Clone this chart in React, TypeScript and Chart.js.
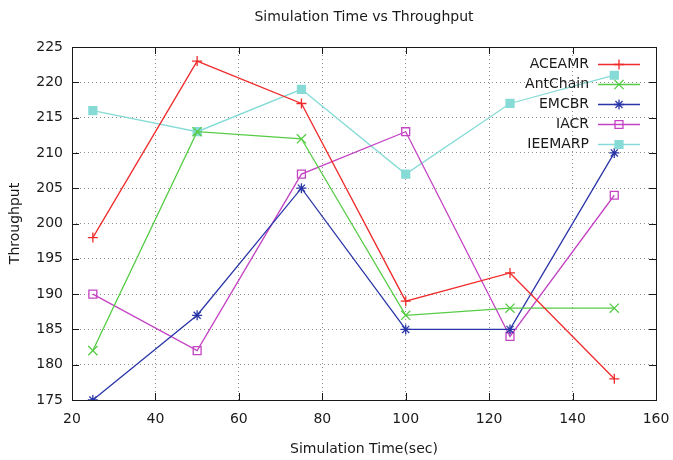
import React, { useEffect, useRef } from "react";
import { Chart, registerables } from "chart.js";
import { drawPoint } from "chart.js/helpers";

Chart.register(...registerables);

const chartTitle = "Simulation Time vs Throughput";
const simTimes = [25, 50, 75, 100, 125, 150];
const seriesNames = ["ACEAMR", "AntChain", "EMCBR", "IACR", "IEEMARP"];
const aceamr = [198, 223, 217, 189, 193, 178];
const antChain = [182, 213, 212, 187, 188, 188];
const emcbr = [175, 187, 205, 185, 185, 210];
const iacr = [190, 182, 207, 213, 184, 204];
const ieemarp = [216, 213, 219, 207, 217, 221];
const xTicks = [20, 40, 60, 80, 100, 120, 140, 160];
const yTicks = [175, 180, 185, 190, 195, 200, 205, 210, 215, 220, 225];

const FONT = "'DejaVu Sans', 'Noto Sans', sans-serif";
const TEXT = "#1a1a1a";

const styles = [
  { color: "#f02a2a", pointStyle: "cross", radius: 5, fill: false },
  { color: "#55cc44", pointStyle: "crossRot", radius: 6.5, fill: false },
  { color: "#2a36a8", pointStyle: "star", radius: 5, fill: false },
  { color: "#c444c4", pointStyle: "rect", radius: 5.6, fill: false },
  { color: "#86dbd6", pointStyle: "rect", radius: 5.6, fill: true },
];

const allSeries = [aceamr, antChain, emcbr, iacr, ieemarp];

const decorPlugin = {
  id: "gnuplotDecor",
  afterDatasetsDraw(chart: any) {
    const { ctx, chartArea, scales } = chart;
    const { left, right, top, bottom } = chartArea;
    const xs = scales.x;
    const ys = scales.y;
    ctx.save();
    ctx.strokeStyle = TEXT;
    ctx.lineWidth = 1;
    ctx.setLineDash([]);
    const tl = 7;
    ctx.beginPath();
    xTicks.forEach((v) => {
      const px = Math.round(xs.getPixelForValue(v)) + 0.5;
      ctx.moveTo(px, bottom);
      ctx.lineTo(px, bottom - tl);
      ctx.moveTo(px, top);
      ctx.lineTo(px, top + tl);
    });
    yTicks.forEach((v) => {
      const py = Math.round(ys.getPixelForValue(v)) + 0.5;
      ctx.moveTo(left, py);
      ctx.lineTo(left + tl, py);
      ctx.moveTo(right, py);
      ctx.lineTo(right - tl, py);
    });
    ctx.stroke();
    ctx.strokeRect(Math.round(left) + 0.5, Math.round(top) + 0.5, Math.round(right - left), Math.round(bottom - top));

    // title centred over plot area
    ctx.font = `14px ${FONT}`;
    ctx.fillStyle = TEXT;
    ctx.textAlign = "center";
    ctx.textBaseline = "middle";
    ctx.fillText(chartTitle, (left + right) / 2, 17);

    // legend
    const textRight = right - 67;
    const lineStart = right - 58;
    const lineEnd = right - 16;
    const markX = (lineStart + lineEnd) / 2;
    ctx.textAlign = "right";
    seriesNames.forEach((name, i) => {
      const y = top + 17 + i * 20;
      const st = styles[i];
      ctx.fillStyle = TEXT;
      ctx.fillText(name, textRight, y);
      ctx.strokeStyle = st.color;
      ctx.lineWidth = 1.3;
      ctx.beginPath();
      ctx.moveTo(lineStart, y + 0.5);
      ctx.lineTo(lineEnd, y + 0.5);
      ctx.stroke();
      ctx.fillStyle = st.fill ? st.color : "rgba(0,0,0,0)";
      drawPoint(ctx, { pointStyle: st.pointStyle, radius: st.radius, rotation: 0, borderWidth: 1.3 }, markX, y + 0.5);
      if (st.fill) ctx.fill();
    });
    ctx.restore();
  },
};

export default function App() {
  const canvasRef = useRef<HTMLCanvasElement | null>(null);

  useEffect(() => {
    const canvas = canvasRef.current;
    if (!canvas) return;
    const datasets = allSeries.map((vals, i) => ({
      label: seriesNames[i],
      data: simTimes.map((x, j) => ({ x, y: vals[j] })),
      borderColor: styles[i].color,
      backgroundColor: styles[i].fill ? styles[i].color : "rgba(0,0,0,0)",
      pointBorderColor: styles[i].color,
      pointBackgroundColor: styles[i].fill ? styles[i].color : "rgba(0,0,0,0)",
      pointStyle: styles[i].pointStyle,
      pointRadius: styles[i].radius,
      pointBorderWidth: 1.3,
      borderWidth: 1.3,
      tension: 0,
      fill: false,
    }));
    const chart = new Chart(canvas, {
      type: "line",
      data: { datasets },
      plugins: [decorPlugin],
      options: {
        animation: false,
        responsive: false,
        maintainAspectRatio: false,
        layout: { padding: { left: 0, right: 17, top: 47, bottom: 0 } },
        plugins: {
          legend: { display: false },
          tooltip: { enabled: false },
          title: { display: false },
        },
        scales: {
          x: {
            type: "linear",
            min: 20,
            max: 160,
            afterFit: (s: any) => {
              s.height = 60;
              s.paddingLeft = 0;
              s.paddingRight = 0;
            },
            afterBuildTicks: (s: any) => {
              s.ticks = xTicks.map((v) => ({ value: v }));
            },
            ticks: {
              color: TEXT,
              font: { family: FONT, size: 14 },
              padding: 11,
              maxRotation: 0,
              autoSkip: false,
            },
            grid: {
              color: "#8f8f8f",
              lineWidth: 1,
              drawTicks: false,
            },
            border: { display: false, dash: [1, 3] },
            title: {
              display: true,
              text: "Simulation Time(sec)",
              color: TEXT,
              font: { family: FONT, size: 14 },
              padding: { top: 0, bottom: 2 },
            },
          },
          y: {
            type: "linear",
            min: 175,
            max: 225,
            afterFit: (s: any) => {
              s.width = 72;
              s.paddingTop = 0;
              s.paddingBottom = 0;
            },
            afterBuildTicks: (s: any) => {
              s.ticks = yTicks.map((v) => ({ value: v }));
            },
            ticks: {
              color: TEXT,
              font: { family: FONT, size: 14 },
              padding: 9,
              autoSkip: false,
            },
            grid: {
              color: "#8f8f8f",
              lineWidth: 1,
              drawTicks: false,
            },
            border: { display: false, dash: [1, 3] },
            title: {
              display: true,
              text: "Throughput",
              color: TEXT,
              font: { family: FONT, size: 14 },
              padding: { top: 7, bottom: 0 },
            },
          },
        },
      },
    });
    return () => chart.destroy();
  }, []);

  return (
    <div style={{ position: "fixed", left: 0, top: 0, width: 673, height: 460, background: "#fff" }}>
      <canvas ref={canvasRef} width={673} height={460} style={{ width: 673, height: 460 }} />
    </div>
  );
}
